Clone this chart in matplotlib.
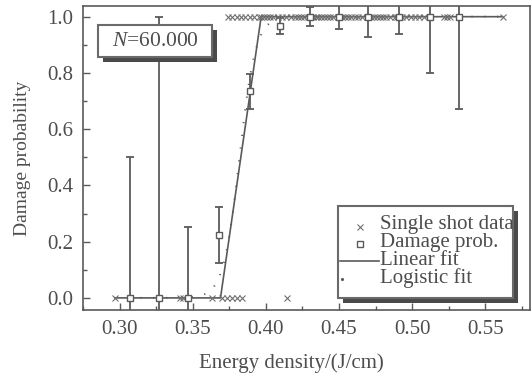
import numpy as np
import matplotlib
matplotlib.use("Agg")
import matplotlib.pyplot as plt
from matplotlib.patches import Rectangle
from matplotlib.lines import Line2D

# ---------------- data ----------------
# Damage probability points (energy density, probability, lower err, upper err)
prob_x = [0.307, 0.327, 0.347, 0.368, 0.389, 0.410, 0.430, 0.450, 0.470, 0.491, 0.512, 0.532]
prob_y = [0.0, 0.0, 0.0, 0.224, 0.735, 0.968, 1.0, 1.0, 1.0, 1.0, 1.0, 1.0]
prob_lo = [0.0, 0.0, 0.0, 0.124, 0.673, 0.939, 0.968, 0.957, 0.929, 0.940, 0.800, 0.670]
prob_hi = [0.5, 1.0, 0.252, 0.324, 0.795, 0.995, 1.033, 1.06, 1.06, 1.06, 1.06, 1.06]
prob_lo_ext = [0.5, 1.0, 0.252]  # first three bars are symmetric, clipped by axis

# Single shot data (energy density) for non-damaged (0) and damaged (1) shots
shots_0 = [0.2967, 0.3414, 0.3435, 0.3635, 0.370, 0.3735, 0.377, 0.3805, 0.384, 0.4147]
shots_1 = [0.374, 0.377, 0.380, 0.383, 0.386, 0.389, 0.392, 0.395, 0.397, 0.399, 0.401,
           0.403, 0.405, 0.408, 0.411, 0.414, 0.417, 0.420, 0.422, 0.424, 0.426, 0.429,
           0.432, 0.434, 0.436, 0.438, 0.440, 0.442, 0.444, 0.446, 0.449, 0.452, 0.454,
           0.456, 0.458, 0.461, 0.463, 0.466, 0.469, 0.472, 0.474, 0.476, 0.478, 0.480,
           0.482, 0.485, 0.488, 0.490, 0.493, 0.496, 0.499, 0.502, 0.505, 0.508, 0.522,
           0.524, 0.526, 0.562]

# Linear fit (piecewise) break points
lin_x = [0.2967, 0.3690, 0.3968, 0.562]
lin_y = [0.0, 0.0, 1.0, 1.0]

# Logistic fit parameters (centre, width)
logi_x0 = 0.382
logi_w = 0.0055
logi_range = (0.2967, 0.562)

n_label = "=60.000"
xticks = [0.30, 0.35, 0.40, 0.45, 0.50, 0.55]
yticks = [0.0, 0.2, 0.4, 0.6, 0.8, 1.0]

# ---------------- style ----------------
W, H = 532, 377
FONT = "Liberation Serif"
TXT = "#4d4d4d"
LN = "#5a5a5a"
plt.rcParams["font.family"] = [FONT, "DejaVu Serif"]
plt.rcParams["mathtext.fontset"] = "custom"
plt.rcParams["mathtext.it"] = FONT + ":italic"
plt.rcParams["mathtext.rm"] = FONT

fig = plt.figure(figsize=(W / 100, H / 100), dpi=100)
ax_l, ax_r, ax_t, ax_b = 83, 530, 6, 310
ax = fig.add_axes([ax_l / W, (H - ax_b) / H, (ax_r - ax_l) / W, (ax_b - ax_t) / H])

def pxa(px, py):
    """figure pixel (from top-left) -> axes fraction"""
    return (px - ax_l) / (ax_r - ax_l), (ax_b - py) / (ax_b - ax_t)

# error bars
px = np.array(prob_x)
py = np.array(prob_y)
lo = py - np.array(prob_lo)
lo[:3] = prob_lo_ext
hi = np.array(prob_hi) - py
ax.errorbar(px, py, yerr=[lo, hi], fmt="none", ecolor=LN, elinewidth=1.3,
            capsize=3.0, capthick=1.3, zorder=3)

# linear fit
ax.plot(lin_x, lin_y, color=LN, lw=1.2, zorder=2)

# logistic fit
lx = np.linspace(logi_range[0], logi_range[1], 600)
ly = 1.0 / (1.0 + np.exp(-(lx - logi_x0) / logi_w))
ax.plot(lx, ly, color=LN, lw=1.4, linestyle=(0, (0.6, 6.0)), zorder=2)

# single shot data
ax.plot(shots_0, np.zeros(len(shots_0)), ls="none", marker="x", ms=4.5,
        mew=0.8, color="#707070", zorder=4)
ax.plot(shots_1, np.ones(len(shots_1)), ls="none", marker="x", ms=4.5,
        mew=0.8, color="#707070", zorder=4)

# damage prob squares
ax.plot(px, py, ls="none", marker="s", ms=4.2, mfc="white", mec=LN, mew=1.0, zorder=5)

ax.set_xlim(0.2773, 0.5806)
ax.set_ylim(-0.043, 1.038)
ax.set_xticks(xticks)
ax.set_xticklabels([f"{v:.2f}" for v in xticks])
ax.set_yticks(yticks)
ax.set_yticklabels([f"{v:.1f}" for v in yticks])
ax.set_xticks(np.arange(0.275, 0.58, 0.025), minor=True)
ax.set_yticks(np.arange(0.1, 1.0, 0.2), minor=True)
ax.tick_params(which="both", direction="in", colors=LN, labelcolor=TXT,
               labelsize=15, top=False, right=False)
ax.tick_params(which="major", length=5, width=1)
ax.tick_params(which="minor", length=3, width=1)
ax.tick_params(axis="y", pad=7)
ax.tick_params(axis="x", pad=7)
for s in ax.spines.values():
    s.set_color(LN)
    s.set_linewidth(1.2)

ax.set_xlabel("Energy density/(J/cm)", fontsize=15, color=TXT)
ax.xaxis.set_label_coords(pxa(291, 0)[0], pxa(0, 363)[1])
ax.xaxis.label.set_va("center")
ax.set_ylabel("Damage probability", fontsize=14, color=TXT)
ax.yaxis.set_label_coords(pxa(23, 0)[0], pxa(0, 158)[1])
ax.yaxis.label.set_va("center")

# N box with shadow
def shadow_box(x0p, y0p, x1p, y1p, off=4.5):
    a0 = pxa(x0p + off, y1p + off)
    a1 = pxa(x1p + off, y0p + off)
    ax.add_patch(Rectangle(a0, a1[0] - a0[0], a1[1] - a0[1], transform=ax.transAxes,
                           facecolor="#4a4a4a", edgecolor="none", zorder=8, clip_on=False))
    b0 = pxa(x0p, y1p)
    b1 = pxa(x1p, y0p)
    ax.add_patch(Rectangle(b0, b1[0] - b0[0], b1[1] - b0[1], transform=ax.transAxes,
                           facecolor="white", edgecolor="#6a6a6a", lw=1.5, zorder=9,
                           clip_on=False))

shadow_box(98, 25, 212, 57)
nx, ny = pxa(155, 42)
ax.text(nx, ny, r"$N$" + n_label, transform=ax.transAxes, ha="center", va="center",
        fontsize=15.5, color=TXT, zorder=10)

# legend box
shadow_box(338, 206, 513, 298)
rows = [225, 243, 260.5, 278.5]
labels = ["Single shot data", "Damage prob.", "Linear fit", "Logistic fit"]
for yy, lab in zip(rows, labels):
    tx, ty = pxa(380, yy)
    ax.text(tx, ty, lab, transform=ax.transAxes, ha="left", va="center",
            fontsize=15, color=TXT, zorder=10, clip_on=False)
mx, my = pxa(360, rows[0] + 2)
ax.add_line(Line2D([mx], [my], transform=ax.transAxes, ls="none", marker="x", ms=5,
                   mew=0.8, color="#707070", zorder=10))
mx, my = pxa(360, rows[1] + 1)
ax.add_line(Line2D([mx], [my], transform=ax.transAxes, ls="none", marker="s", ms=4.2,
                   mfc="white", mec=LN, mew=1.0, zorder=10))
l0 = pxa(340, rows[2])
l1 = pxa(379, rows[2])
ax.add_line(Line2D([l0[0], l1[0]], [l0[1], l1[1]], transform=ax.transAxes, color=LN,
                   lw=1.2, zorder=10))
dx, dy = pxa(342, rows[3])
ax.add_line(Line2D([dx], [dy], transform=ax.transAxes, ls="none", marker=".", ms=2.5,
                   color=LN, zorder=10))

fig.savefig("out.png", dpi=100)
